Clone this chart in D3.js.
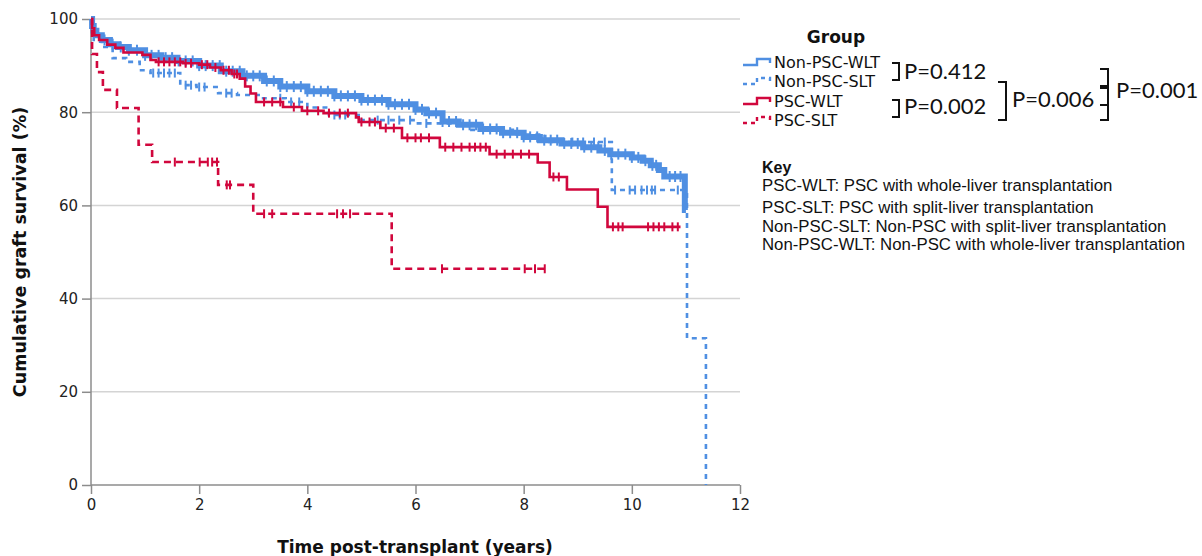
<!DOCTYPE html>
<html><head><meta charset="utf-8">
<script src="https://cdn.jsdelivr.net/npm/d3@7/dist/d3.min.js"></script>
<style>body{margin:0;background:#fff;} svg{display:block}</style>
</head><body>
<svg id="c" width="1202" height="556"></svg>
<script>
// ---------- data ----------
const groups = ["Non-PSC-WLT", "Non-PSC-SLT", "PSC-WLT", "PSC-SLT"];
const xTicks = [0, 2, 4, 6, 8, 10, 12];
const yTicks = [0, 20, 40, 60, 80, 100];

// step points [time (years), survival %]; last entry = end of follow-up
const npWltSteps = [[0,100],[0.02,98.5],[0.05,97.5],[0.1,96.5],[0.2,95.5],[0.35,94.6],[0.5,94.0],[0.7,93.3],[1.0,92.2],[1.3,91.7],[1.6,91.0],[2.0,90.0],[2.4,88.8],[2.8,87.8],[3.2,86.7],[3.5,85.5],[4.0,84.5],[4.5,83.5],[5.0,82.6],[5.5,81.7],[6.0,80.6],[6.2,79.8],[6.5,78.0],[6.8,77.3],[7.2,76.4],[7.6,75.6],[8.0,74.7],[8.3,74.0],[8.7,73.3],[9.1,72.5],[9.4,71.8],[9.6,71.0],[10.0,70.3],[10.2,69.6],[10.35,68.6],[10.5,67.6],[10.6,66.2],[10.98,59.0]];
const npWltEnd = 11.0;
const npWltCens = [0.25,0.4,0.55,0.7,0.85,1.0,1.12,1.25,1.38,1.5,1.62,1.75,1.88,2.0,2.12,2.25,2.38,2.5,2.62,2.75,2.88,3.0,3.12,3.25,3.38,3.5,3.62,3.75,3.88,4.0,4.12,4.25,4.38,4.5,4.62,4.75,4.88,5.0,5.12,5.25,5.38,5.5,5.62,5.75,5.88,6.0,6.12,6.25,6.38,6.5,6.62,6.75,6.88,7.0,7.12,7.25,7.38,7.5,7.62,7.75,7.88,8.0,8.12,8.25,8.38,8.5,8.62,8.75,8.88,9.0,9.12,9.25,9.38,9.5,9.62,9.75,9.88,10.0,10.12,10.25,10.38,10.45,10.7,10.8,10.9];

const npSltSteps = [[0,100],[0.02,97],[0.05,95.5],[0.2,94],[0.4,91.6],[0.65,90.8],[0.9,89],[1.1,88.4],[1.65,85.8],[1.95,85.4],[2.35,84.1],[2.7,83.7],[3.1,83],[3.6,82.2],[4.0,81],[4.4,79.4],[5.0,78.3],[6.0,77.6],[7.0,76.2],[7.8,75.2],[8.4,73.6],[9.63,63.3],[11.02,31.5],[11.37,0]];
const npSltEnd = 11.37;
const npSltCens = [1.15,1.25,1.35,1.45,1.55,1.75,1.85,2.0,2.1,2.5,2.6,3.5,3.7,3.85,4.5,4.6,4.7,5.3,5.5,5.7,5.9,6.2,8.9,9.1,9.3,9.5,9.69,9.96,10.06,10.18,10.28,10.37,10.43,10.85,10.98];

const pWltSteps = [[0,100],[0.02,98],[0.06,96.5],[0.15,95.5],[0.3,94.5],[0.45,93.8],[0.6,92.8],[0.95,92.3],[1.1,91.2],[1.2,90.8],[1.7,90.5],[2.0,90.2],[2.2,89.6],[2.4,89],[2.6,88.2],[2.75,87.2],[2.85,85.5],[2.95,84],[3.05,82.2],[3.55,81.1],[3.9,80.3],[4.3,79.8],[4.9,78.9],[4.95,77.9],[5.35,76.6],[5.75,74.5],[6.45,72.5],[7.37,71],[8.26,69.2],[8.48,66.1],[8.8,63.4],[9.37,59.7],[9.55,55.4]];
const pWltEnd = 10.9;
const pWltCens = [1.25,1.35,1.45,1.55,1.65,1.75,1.85,2.05,2.15,2.3,2.45,2.55,2.65,2.7,3.2,3.35,3.5,3.75,4.0,4.2,4.4,4.6,4.75,5.0,5.15,5.25,5.45,5.6,5.85,6.0,6.1,6.25,6.55,6.7,6.85,7.0,7.1,7.2,7.3,7.5,7.65,7.8,7.95,8.1,8.55,8.65,9.65,9.75,9.83,10.3,10.4,10.5,10.6,10.75,10.85];

const pSltSteps = [[0,100],[0.02,92.5],[0.11,88.6],[0.22,84.8],[0.48,80.9],[0.88,73],[1.13,69.3],[2.35,64.4],[3.0,58.2],[5.56,46.4]];
const pSltEnd = 8.43;
const pSltCens = [1.55,2.01,2.16,2.24,2.33,2.51,2.57,3.2,3.35,4.55,4.66,4.79,6.49,8.02,8.21,8.39];

const keyLines = ["PSC-WLT: PSC with whole-liver transplantation","PSC-SLT: PSC with split-liver transplantation","Non-PSC-SLT: Non-PSC with split-liver transplantation","Non-PSC-WLT: Non-PSC with whole-liver transplantation"];
const pLabels = ["P=0.412","P=0.002","P=0.006","P=0.001"];

// ---------- styles ----------
const BLUE = "#4f8fe2", RED = "#d1073d";
const series = [
  {name: groups[0], steps: npWltSteps, end: npWltEnd, cens: npWltCens, color: BLUE, dash: null, width: 6, tick: 5.5},
  {name: groups[1], steps: npSltSteps, end: npSltEnd, cens: npSltCens, color: BLUE, dash: "5,5", width: 2.6, tick: 4.5},
  {name: groups[2], steps: pWltSteps, end: pWltEnd, cens: pWltCens, color: RED, dash: null, width: 2.6, tick: 4.5},
  {name: groups[3], steps: pSltSteps, end: pSltEnd, cens: pSltCens, color: RED, dash: "7,5", width: 2.6, tick: 4.5}
];

const svg = d3.select("#c");
const x = d3.scaleLinear().domain([0, 12]).range([91, 740]);
const y = d3.scaleLinear().domain([0, 100]).range([485, 19]);
const AX = "#8c8c8c";
const FONT = "'DejaVu Sans', sans-serif";

// gridlines
svg.append("g").selectAll("line").data(yTicks.filter(d => d > 0)).join("line")
  .attr("x1", x(0)).attr("x2", x(12)).attr("y1", d => y(d)).attr("y2", d => y(d))
  .attr("stroke", "#d4d4d4").attr("stroke-width", 1.5);

// axes
const xAxis = d3.axisBottom(x).tickValues(xTicks).tickSize(9).tickPadding(5);
const yAxis = d3.axisLeft(y).tickValues(yTicks).tickSize(9).tickPadding(4);
const gx = svg.append("g").attr("transform", `translate(0,${y(0)})`).call(xAxis);
const gy = svg.append("g").attr("transform", `translate(${x(0)},0)`).call(yAxis);
[gx, gy].forEach(g => {
  g.select(".domain").attr("stroke", AX).attr("stroke-width", 1.5);
  g.selectAll(".tick line").attr("stroke", AX).attr("stroke-width", 1.5);
  g.selectAll(".tick text").attr("fill", "#222").style("font-family", FONT).style("font-size", "15px");
});
gx.select(".domain").attr("d", `M${x(0)},0H${x(12)}`);
gy.select(".domain").attr("d", `M0,${y(0)}V${y(100)}`);

// curves
const line = d3.line().x(d => x(d[0])).y(d => y(d[1])).curve(d3.curveStepAfter);
function survAt(steps, t) {
  let v = steps[0][1];
  for (const s of steps) { if (s[0] <= t) v = s[1]; }
  return v;
}
const plot = svg.append("g");
series.forEach(s => {
  const pts = s.steps.concat([[s.end, s.steps[s.steps.length - 1][1]]]);
  plot.append("path").attr("d", line(pts)).attr("fill", "none")
    .attr("stroke", s.color).attr("stroke-width", s.width)
    .attr("stroke-dasharray", s.dash).attr("stroke-linejoin", "miter");
  plot.append("g").selectAll("line").data(s.cens).join("line")
    .attr("x1", d => x(d)).attr("x2", d => x(d))
    .attr("y1", d => y(survAt(s.steps, d)) - s.tick).attr("y2", d => y(survAt(s.steps, d)) + s.tick)
    .attr("stroke", s.color).attr("stroke-width", 2);
});

// axis titles
svg.append("text").attr("x", 415).attr("y", 553).attr("text-anchor", "middle")
  .style("font-family", FONT).style("font-weight", "bold").style("font-size", "17px").attr("fill", "#111")
  .text("Time post-transplant (years)");
svg.append("text").attr("transform", "translate(26,252) rotate(-90)").attr("text-anchor", "middle")
  .style("font-family", FONT).style("font-weight", "bold").style("font-size", "17.5px").attr("fill", "#111")
  .text("Cumulative graft survival (%)");

// legend
const lg = svg.append("g");
lg.append("text").attr("x", 836).attr("y", 43).attr("text-anchor", "middle")
  .style("font-family", FONT).style("font-weight", "bold").style("font-size", "17px").attr("fill", "#111").text("Group");
const legY = [62, 81, 101, 120];
series.forEach((s, i) => {
  const cy = legY[i];
  lg.append("path").attr("d", `M743,${cy+3}H757V${cy-3}H770V${cy+1}`).attr("fill", "none")
    .attr("stroke", s.color).attr("stroke-width", 2.4).attr("stroke-dasharray", s.dash ? "4,4" : null);
  lg.append("text").attr("x", 774).attr("y", cy + 6)
    .style("font-family", FONT).style("font-size", "16px").attr("fill", "#111").text(s.name);
});

// brackets and p-values
const br = svg.append("g").attr("fill", "none").attr("stroke", "#111").attr("stroke-width", 2);
br.append("path").attr("d", "M892,63H899V80H892");
br.append("path").attr("d", "M892,100H899V117H892");
br.append("path").attr("d", "M998,82H1006V120H998");
br.append("path").attr("d", "M1100,69H1108V120H1100M1100,105H1108");
br.append("path").attr("d", "M1100,87H1108").attr("stroke-width", 4);
const pPos = [[904, 79], [904, 114], [1012, 107], [1116, 98]];
pLabels.forEach((p, i) => {
  svg.append("text").attr("x", pPos[i][0]).attr("y", pPos[i][1])
    .style("font-family", "Lato, 'Open Sans', sans-serif").style("font-size", "22px").attr("fill", "#111").text(p);
});

// key
const kg = svg.append("g").style("font-family", "'Liberation Sans', Arial, sans-serif").attr("fill", "#111");
kg.append("text").attr("x", 762).attr("y", 173).style("font-weight", "bold").style("font-size", "16px").text("Key");
const keyY = [191, 213, 232, 250];
keyLines.forEach((t, i) => {
  kg.append("text").attr("x", 762).attr("y", keyY[i]).style("font-size", "16.8px").text(t);
});
</script>
</body></html>
